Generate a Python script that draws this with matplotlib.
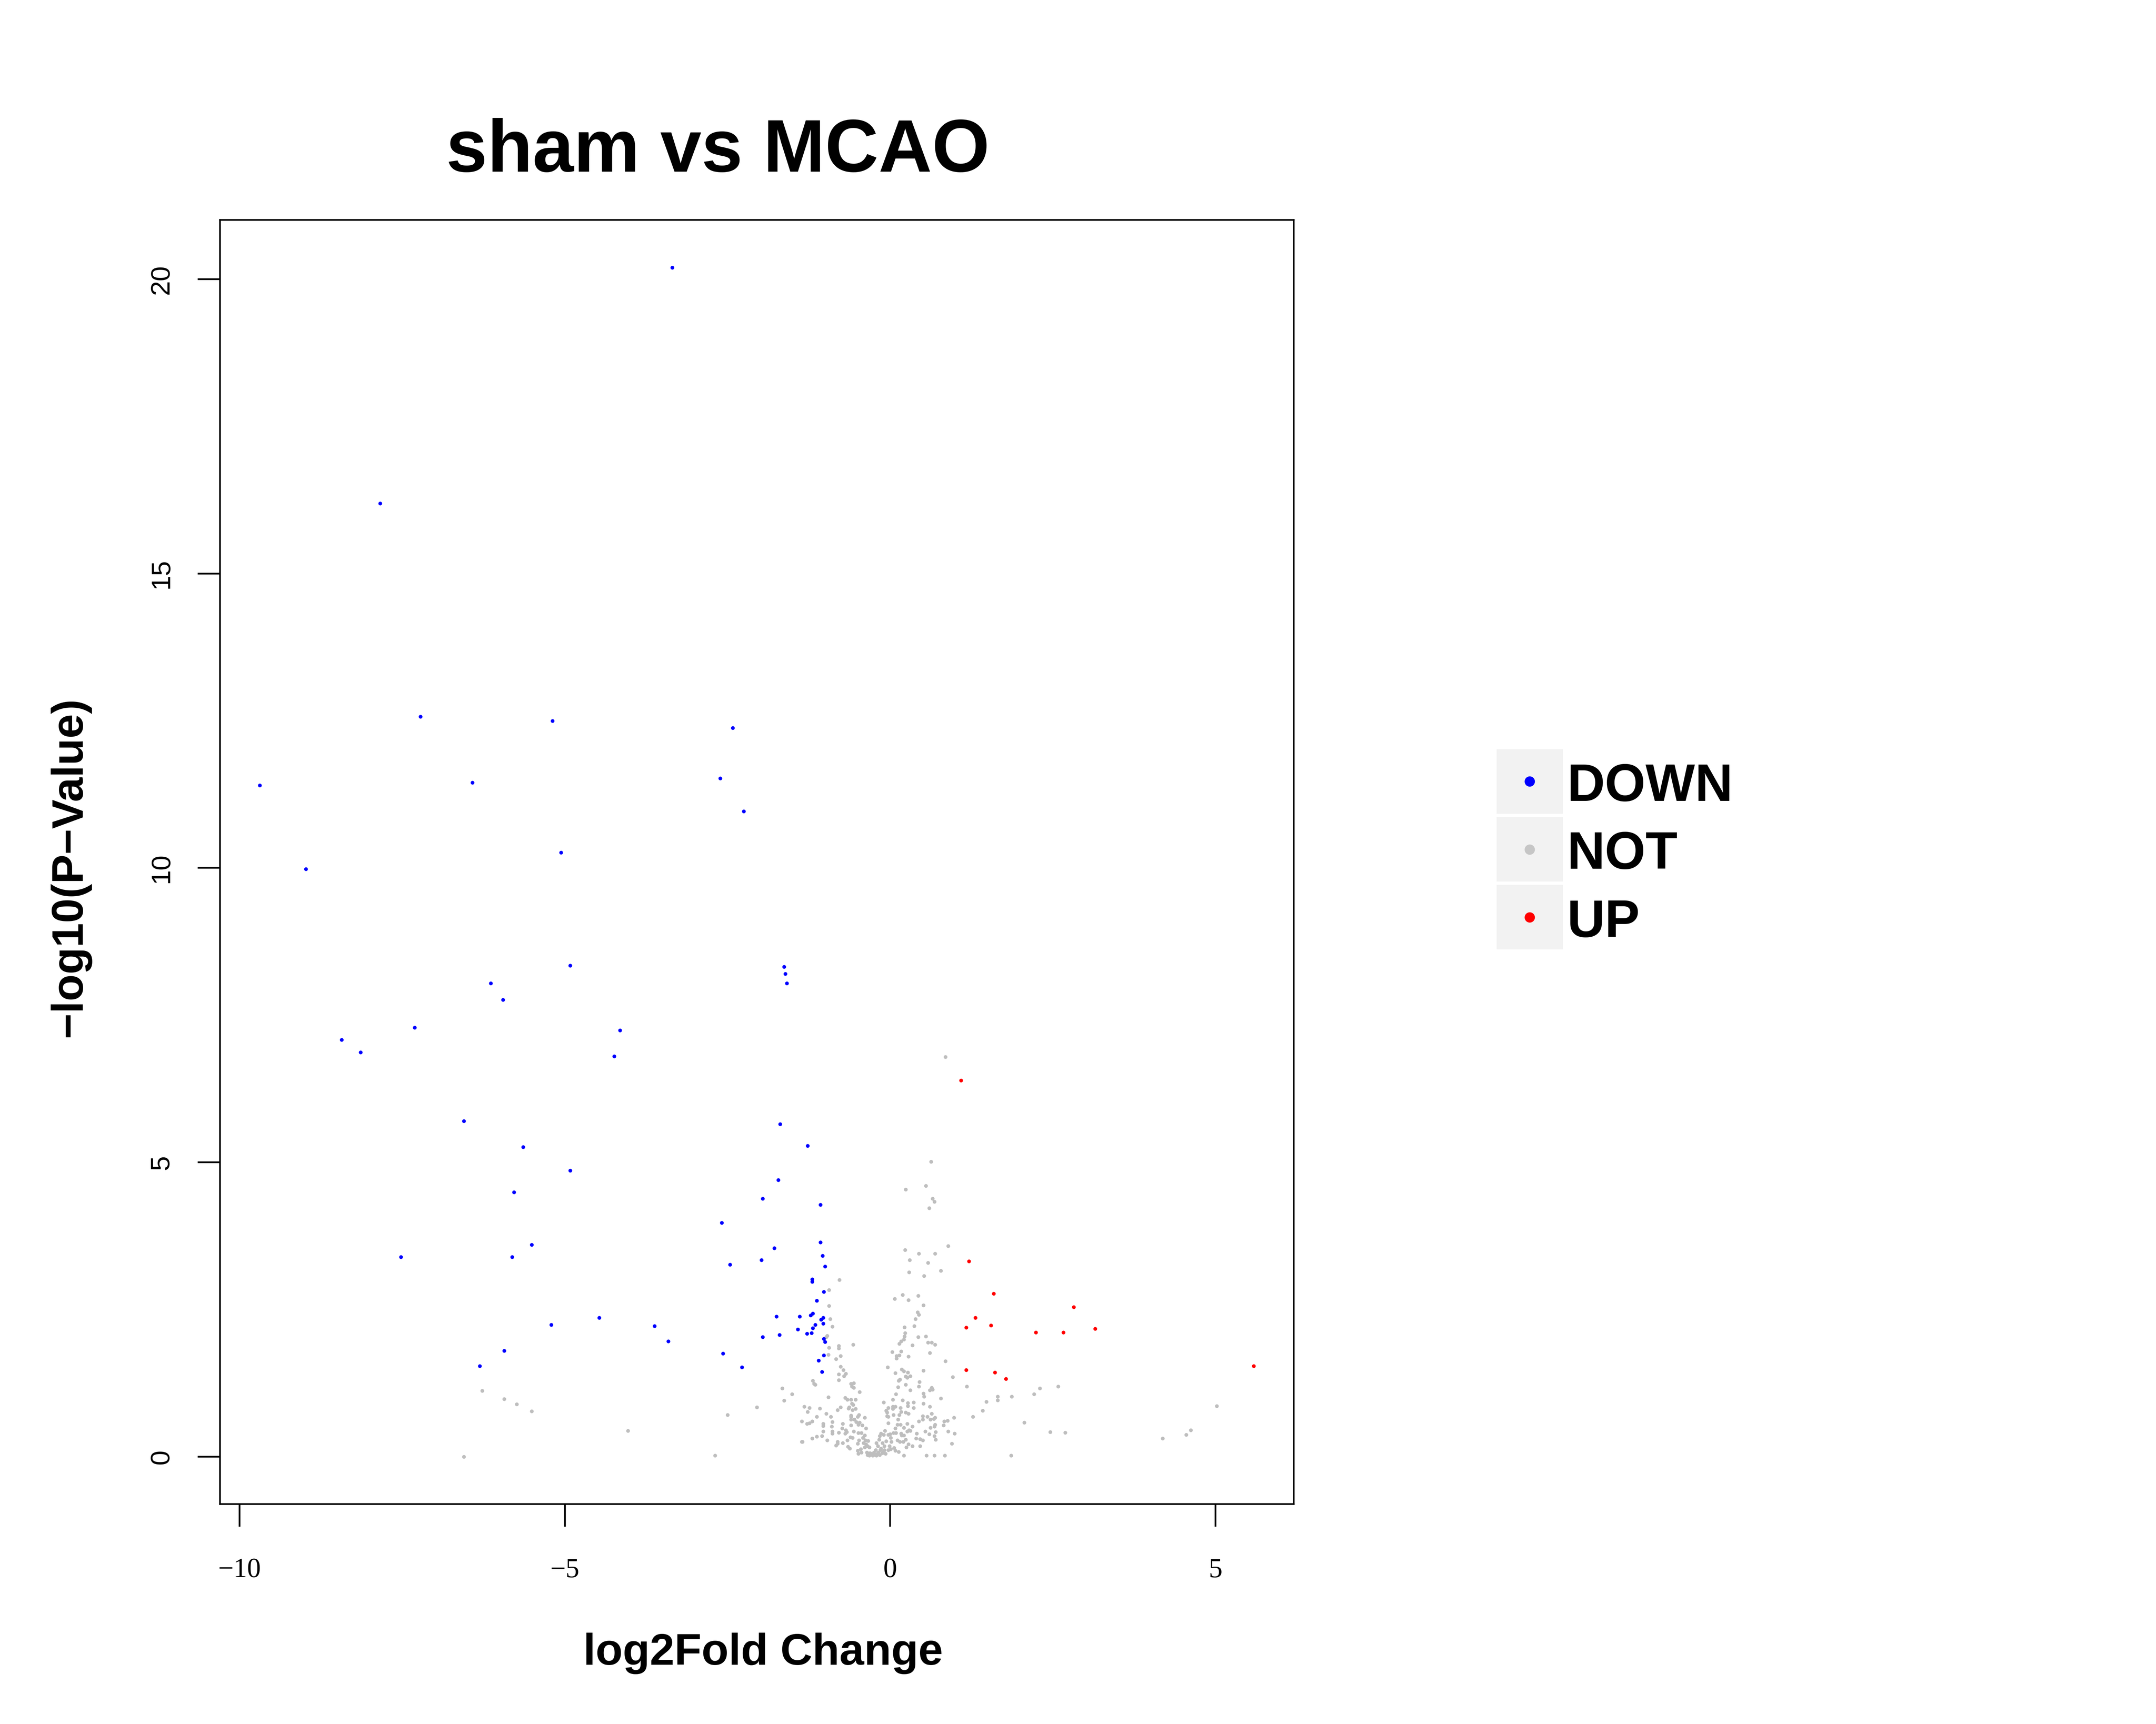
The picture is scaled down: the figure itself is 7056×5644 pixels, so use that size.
import numpy as np
import matplotlib
matplotlib.use("Agg")
import matplotlib.pyplot as plt
from matplotlib.patches import Rectangle

plt.rcParams['font.family'] = ['Liberation Sans', 'DejaVu Sans']

# (log2FoldChange, -log10 p)
down = [
    (-3.35, 20.20), (-7.84, 16.19), (-7.22, 12.57), (-5.19, 12.50), (-2.42, 12.38),
    (-9.69, 11.40), (-6.42, 11.45), (-2.61, 11.52), (-2.25, 10.96), (-5.06, 10.26),
    (-8.98, 9.98), (-4.92, 8.34), (-1.63, 8.32), (-1.61, 8.20), (-1.59, 8.04),
    (-6.14, 8.04), (-5.95, 7.76), (-7.31, 7.29), (-4.15, 7.24), (-8.43, 7.08),
    (-8.14, 6.87), (-4.24, 6.80), (-6.55, 5.70), (-1.69, 5.65), (-5.64, 5.26),
    (-1.27, 5.28), (-4.92, 4.86), (-1.72, 4.70), (-5.78, 4.49), (-5.51, 3.60),
    (-5.81, 3.39), (-7.52, 3.39), (-4.47, 2.36), (-3.62, 2.22), (-5.21, 2.24),
    (-3.41, 1.96), (-5.93, 1.80), (-6.31, 1.54),
    (-1.96, 4.38), (-1.07, 4.28), (-2.59, 3.97), (-1.07, 3.64), (-1.78, 3.54),
    (-1.98, 3.34), (-2.46, 3.26), (-1.04, 3.41), (-1.00, 3.23), (-1.20, 3.01),
    (-1.20, 2.97), (-1.02, 2.80), (-1.13, 2.65), (-1.75, 2.38), (-1.39, 2.38),
    (-1.19, 2.43), (-1.22, 2.40), (-1.03, 2.36), (-1.06, 2.33), (-1.03, 2.26),
    (-1.15, 2.24), (-1.19, 2.18), (-1.42, 2.16), (-1.28, 2.09), (-1.21, 2.10),
    (-1.96, 2.03), (-1.70, 2.07), (-1.02, 2.00), (-1.00, 1.95), (-2.57, 1.75),
    (-2.28, 1.52), (-1.02, 1.72), (-1.10, 1.63), (-1.05, 1.44),
]

up = [
    (1.09, 6.39), (1.21, 3.32), (1.59, 2.77), (2.82, 2.54), (1.31, 2.36),
    (1.55, 2.23), (1.17, 2.19), (2.24, 2.11), (2.66, 2.11), (3.15, 2.17),
    (1.17, 1.47), (1.61, 1.43), (1.78, 1.32), (5.59, 1.54),
]

not_sig = [
    (0.24, 4.54), (0.55, 4.60), (0.65, 4.38), (0.68, 4.33), (0.60, 4.22), (0.85, 6.79), (0.63, 5.01),
    (0.89, 3.58), (0.23, 3.51), (0.44, 3.45), (0.69, 3.45), (0.30, 3.34), (0.58, 3.29), (0.78, 3.16),
    (0.29, 3.13), (0.52, 3.07), (-0.78, 3.00), (-0.94, 2.83), (0.07, 2.68), (0.19, 2.75), (0.28, 2.66),
    (0.43, 2.73), (0.51, 2.57), (-0.94, 2.56), (0.42, 2.45), (0.44, 2.41), (0.39, 2.34), (-0.92, 2.34),
    (-0.89, 2.21), (0.37, 2.22), (0.22, 2.20), (0.23, 2.10), (0.22, 2.04), (0.21, 1.99), (0.17, 1.96),
    (0.14, 1.92), (0.43, 2.03), (0.55, 2.04), (0.58, 1.94), (0.64, 1.94), (0.69, 1.90), (0.34, 1.89),
    (-0.57, 1.90), (-0.97, 2.05), (-0.98, 2.03), (-0.79, 1.88), (-0.79, 1.84), (-0.94, 1.85),
    (-0.95, 1.73), (-0.76, 1.71), (-0.83, 1.66), (0.03, 1.78), (0.17, 1.79), (0.10, 1.71), (0.10, 1.67),
    (0.14, 1.72), (0.28, 1.70), (0.61, 1.76), (0.85, 1.62), (-0.76, 1.53), (-0.72, 1.47), (-0.79, 1.40),
    (-0.71, 1.37), (-0.68, 1.41), (-0.04, 1.52), (0.08, 1.42), (0.18, 1.48), (0.21, 1.45), (0.27, 1.43),
    (0.24, 1.36), (0.26, 1.34), (0.31, 1.37), (0.51, 1.46), (0.96, 1.35), (-0.79, 1.30), (-1.19, 1.29),
    (-1.17, 1.24), (-1.15, 1.22), (-0.60, 1.24), (-0.56, 1.25), (-0.59, 1.19), (-0.56, 1.17),
    (0.13, 1.29), (0.15, 1.31), (0.24, 1.22), (0.12, 1.18), (0.45, 1.27), (0.44, 1.19), (0.31, 1.13),
    (0.64, 1.17), (0.61, 1.13), (0.65, 1.14), (-1.66, 1.16), (-1.51, 1.06), (-1.63, 0.95),
    (-0.47, 1.10), (-0.95, 1.01), (-0.69, 1.00), (-0.66, 0.97), (-0.60, 0.97), (-0.53, 0.97),
    (0.09, 1.06), (0.51, 1.07), (0.52, 1.02), (0.78, 0.99), (1.18, 1.19), (1.65, 1.02), (1.65, 0.96),
    (1.87, 1.02), (1.48, 0.93), (2.21, 1.06), (2.30, 1.16), (2.58, 1.19), (-2.05, 0.84), (-2.50, 0.71),
    (-1.32, 0.85), (-1.24, 0.83), (-1.27, 0.76), (-1.08, 0.82), (-0.76, 0.84), (-0.81, 0.79),
    (-0.63, 0.84), (-0.59, 0.90), (-0.57, 0.88), (-0.64, 0.82), (-0.58, 0.79), (-0.53, 0.81),
    (-0.10, 0.92), (0.04, 0.97), (0.19, 0.96), (0.27, 0.91), (0.27, 0.86), (0.36, 0.92), (0.51, 0.90),
    (0.61, 0.85), (0.36, 0.83), (0.16, 0.83), (-0.03, 0.83), (0.04, 0.85), (0.08, 0.85), (0.04, 0.81),
    (-0.06, 0.78), (-0.05, 0.75), (-0.98, 0.73), (-0.91, 0.68), (-1.13, 0.68), (-0.60, 0.70),
    (-0.60, 0.68), (-0.48, 0.71), (-0.50, 0.68), (-0.39, 0.66), (0.05, 0.71), (0.14, 0.71), (0.17, 0.76),
    (0.24, 0.75), (0.28, 0.73), (-0.05, 0.69), (-0.03, 0.68), (0.64, 0.73), (0.50, 0.69), (0.57, 0.68),
    (1.42, 0.78), (1.27, 0.68), (0.98, 0.66), (0.62, 0.63), (0.67, 0.64), (0.69, 0.66), (0.50, 0.63),
    (0.44, 0.60), (0.12, 0.63), (0.83, 0.60), (0.88, 0.61), (-1.36, 0.60), (-1.28, 0.56), (-1.24, 0.57),
    (-1.20, 0.60), (-1.03, 0.56), (-1.03, 0.52), (-0.89, 0.59), (-0.90, 0.51), (-0.73, 0.56),
    (-0.60, 0.63), (-0.55, 0.63), (-0.60, 0.53), (-0.52, 0.59), (-0.47, 0.58), (-0.49, 0.54),
    (-0.43, 0.53), (-0.37, 0.48), (-0.03, 0.57), (0.11, 0.54), (0.16, 0.54), (0.26, 0.56), (0.34, 0.51),
    (0.21, 0.49), (0.08, 0.48), (0.69, 0.54), (0.68, 0.51), (0.62, 0.49), (0.82, 0.53), (2.06, 0.58),
    (0.89, 0.43), (0.99, 0.39), (0.70, 0.42), (0.54, 0.43), (0.60, 0.38), (0.68, 0.35), (0.70, 0.29),
    (0.50, 0.28), (0.46, 0.30), (0.46, 0.18), (0.40, 0.31), (0.34, 0.18), (0.41, 0.39), (0.29, 0.45),
    (0.31, 0.44), (0.26, 0.43), (0.24, 0.29), (0.18, 0.36), (0.21, 0.36), (0.15, 0.25), (0.20, 0.25),
    (0.25, 0.16), (0.28, 0.21), (0.13, 0.08), (0.08, 0.10), (0.06, 0.15), (0.11, 0.28), (0.21, 0.02),
    (2.46, 0.42), (2.69, 0.41), (0.95, 0.22), (0.56, 0.02), (0.68, 0.02), (0.84, 0.02), (1.86, 0.02),
    (-2.69, 0.02), (-1.03, 0.43), (-0.89, 0.43), (-0.89, 0.39), (-0.79, 0.41), (-0.74, 0.48),
    (-0.68, 0.45), (-0.67, 0.42), (-0.69, 0.39), (-0.56, 0.43), (-0.49, 0.40), (-0.44, 0.40),
    (-0.39, 0.36), (-0.61, 0.33), (-0.58, 0.32), (-0.66, 0.28), (-0.73, 0.23), (-0.81, 0.25),
    (-0.81, 0.22), (-0.83, 0.19), (-0.65, 0.17), (-0.62, 0.14), (-0.97, 0.28), (-1.05, 0.35),
    (-1.13, 0.34), (-1.20, 0.31), (-1.36, 0.25), (-1.35, 0.25),
    (-0.50, 0.22), (-0.48, 0.28), (-0.42, 0.32), (-0.38, 0.28), (-0.34, 0.27), (-0.41, 0.23),
    (-0.37, 0.21), (-0.35, 0.18), (-0.32, 0.16), (-0.50, 0.10), (-0.49, 0.05), (-0.44, 0.07),
    (-0.36, 0.07), (-0.35, 0.03), (-0.31, 0.06), (-0.27, 0.02), (-0.23, 0.03), (-0.20, 0.05),
    (-0.18, 0.07), (-0.22, 0.11), (-0.19, 0.18), (-0.21, 0.23), (-0.17, 0.29), (-0.16, 0.35),
    (-0.14, 0.39), (-0.10, 0.37), (-0.08, 0.44), (-0.03, 0.37), (0.00, 0.38), (0.01, 0.32),
    (-0.06, 0.26), (-0.12, 0.23), (-0.09, 0.18), (-0.15, 0.11), (-0.10, 0.09), (-0.07, 0.05),
    (-0.03, 0.11), (0.01, 0.13), (-0.01, 0.18), (0.02, 0.25), (0.05, 0.40), (0.09, 0.40), (0.17, 0.39),
    (-0.45, 0.13), (-0.39, 0.16), (-0.32, 0.02), (-0.29, 0.05), (-0.25, 0.07), (-0.21, 0.02),
    (-0.16, 0.03), (-0.12, 0.06), (-0.09, 0.11), (-0.14, 0.14),
    (-6.27, 1.12), (-5.93, 0.98), (-5.74, 0.89), (-5.51, 0.77), (-6.55, 0.00), (-4.03, 0.44),
    (4.19, 0.31), (4.55, 0.37), (4.62, 0.45), (5.02, 0.86),
]

groups = ["DOWN", "NOT", "UP"]
group_pts = {"DOWN": down, "NOT": not_sig, "UP": up}
colors = {"DOWN": "#0000FF", "NOT": "#BEBEBE", "UP": "#FF0000"}
key_colors = {"DOWN": "#0000FF", "NOT": "#C6C6C6", "UP": "#FF0000"}

x_ticks = [-10, -5, 0, 5]
y_ticks = [0, 5, 10, 15, 20]

# layout measured on the 8000x6400 reference, kept as fractions
W, H = 8000, 6400
fig = plt.figure(figsize=(16, 12.8))
ax = fig.add_axes([816 / W, 1 - 5584 / H, (4800 - 816) / W, (5584 - 817) / H])

# grey first so the coloured points sit on top
for name in ["NOT", "DOWN", "UP"]:
    arr = np.array(group_pts[name])
    ax.scatter(arr[:, 0], arr[:, 1], s=4, c=colors[name], linewidths=0)

# R style 4% padding around the data range
all_pts = np.array(down + up + not_sig)
xmin, xmax = all_pts[:, 0].min(), all_pts[:, 0].max()
ymin, ymax = all_pts[:, 1].min(), all_pts[:, 1].max()
ax.set_xlim(xmin - 0.04 * (xmax - xmin), xmax + 0.04 * (xmax - xmin))
ax.set_ylim(ymin - 0.04 * (ymax - ymin), ymax + 0.04 * (ymax - ymin))

for sp in ax.spines.values():
    sp.set_linewidth(0.9)

ax.set_xticks(x_ticks)
ax.set_xticklabels([str(t).replace("-", "\u2212") for t in x_ticks],
                   family=["Liberation Serif", "DejaVu Serif"], fontsize=14.7)
ax.set_yticks(y_ticks)
ax.set_yticklabels([str(t) for t in y_ticks], rotation=90, va="center", fontsize=14.4,
                   family=["Liberation Sans", "DejaVu Sans"])
ax.tick_params(axis="both", direction="out", length=12, width=0.9)
ax.tick_params(axis="x", pad=16.5)
ax.tick_params(axis="y", pad=12.5)

fig.text(0.333, 1 - 637 / H, "sham vs MCAO", fontsize=39.6, fontweight="bold",
         ha="center", va="baseline")
fig.text(0.354, 1 - 6179 / H, "log2Fold Change", fontsize=23.7, fontweight="bold",
         ha="center", va="baseline")
fig.text(0.0325, 0.497, "\u2212log10(P\u2212Value)", fontsize=23.5, fontweight="bold",
         rotation=90, ha="center", va="center")

# ggplot-like legend keys on the right
lax = fig.add_axes([5553 / W, 1 - 3525 / H, (6600 - 5553) / W, (3525 - 2782) / H])
lax.set_xlim(0, 1047)
lax.set_ylim(743, 0)
lax.axis("off")
for i, name in enumerate(groups):
    top = i * 252
    lax.add_patch(Rectangle((0, top), 246, 239, facecolor="#F2F2F2", edgecolor="none"))
    lax.plot(123, top + 119.5, "o", ms=5.5, color=key_colors[name], mew=0)
    lax.text(262, top + 191, name, fontsize=28, fontweight="bold", va="baseline", ha="left")

# 8000x6400 is over the viewer's pixel limit, so stay just under it
fig.savefig("out.png", dpi=441)
